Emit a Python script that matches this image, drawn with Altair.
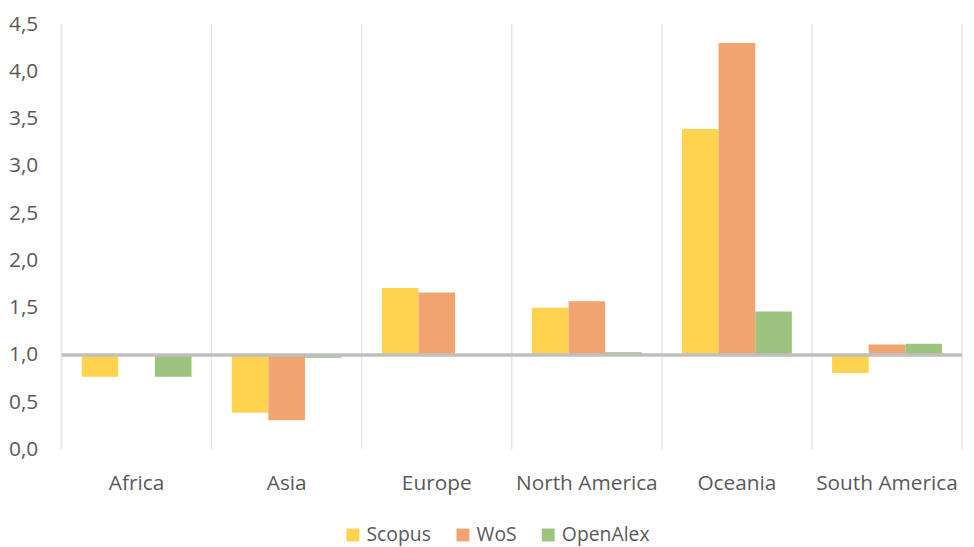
import altair as alt
import pandas as pd

regions = ["Africa", "Asia", "Europe", "North America", "Oceania", "South America"]
series = ["Scopus", "WoS", "OpenAlex"]
scopus = [0.77, 0.39, 1.71, 1.50, 3.39, 0.81]
wos = [None, 0.31, 1.66, 1.57, 4.30, 1.11]
openalex = [0.77, 0.97, None, 1.03, 1.46, 1.12]
colors = ["#FFD34E", "#F1A46F", "#9DC47E"]

rows = []
for s, vals in zip(series, [scopus, wos, openalex]):
    for r, v in zip(regions, vals):
        if v is not None:
            rows.append({"region": r, "source": s, "value": v})
df = pd.DataFrame(rows)

FONT = "Open Sans"
LABEL = "#595959"
GRID = "#E6E6E6"

x_scale = alt.Scale(domain=regions, paddingInner=0, paddingOuter=0)

x_enc = alt.X(
    "region:N",
    sort=regions,
    title=None,
    scale=x_scale,
    axis=alt.Axis(
        grid=False,
        domain=False,
        ticks=False,
        bandPosition=0.5,
        labelAngle=0,
        labelAlign="center",
        labelFont=FONT,
        labelFontSize=21,
        labelColor=LABEL,
        labelPadding=23,
    ),
)

bars = alt.Chart(df).mark_bar().encode(
    x=x_enc,
    xOffset=alt.XOffset(
        "source:N",
        sort=series,
        scale=alt.Scale(paddingOuter=0.55, paddingInner=0),
    ),
    y=alt.Y(
        "value:Q",
        title=None,
        scale=alt.Scale(domain=[0, 4.5], nice=False),
        axis=alt.Axis(
            values=[0, 0.5, 1, 1.5, 2, 2.5, 3, 3.5, 4, 4.5],
            labelExpr="replace(format(datum.value, '.1f'), '.', ',')",
            grid=False,
            domain=False,
            ticks=False,
            labelFont=FONT,
            labelFontSize=21,
            labelColor=LABEL,
            labelPadding=24,
        ),
    ),
    y2=alt.Y2(datum=1),
    color=alt.Color(
        "source:N",
        sort=series,
        scale=alt.Scale(domain=series, range=colors),
        legend=alt.Legend(
            title=None,
            orient="none",
            legendX=284,
            legendY=505,
            direction="horizontal",
            symbolType="square",
            symbolSize=170,
            symbolStrokeWidth=0,
            labelFont=FONT,
            labelFontSize=19.5,
            labelColor=LABEL,
            columnPadding=22,
        ),
    ),
)

grid_df = pd.DataFrame({"region": regions})
grid_start = alt.Chart(grid_df).mark_rule(color=GRID, strokeWidth=1.5).encode(
    x=alt.X("region:N", sort=regions, scale=x_scale, bandPosition=0)
)
grid_end = alt.Chart(pd.DataFrame({"region": [regions[-1]]})).mark_rule(
    color=GRID, strokeWidth=1.5
).encode(x=alt.X("region:N", sort=regions, scale=x_scale, bandPosition=1))

baseline = alt.Chart(pd.DataFrame({"value": [1.0]})).mark_rule(
    color="#BFBFBF", strokeWidth=3.5
).encode(y=alt.Y("value:Q"))

chart = (
    alt.layer(bars, grid_start, grid_end, baseline)
    .properties(
        width=908,
        height=429,
        autosize=alt.AutoSizeParams(type="none"),
        padding={"left": 54, "right": 4, "top": 14, "bottom": 96},
    )
    .configure_view(stroke=None)
)

chart.save("out.html", embed_options={"renderer": "svg", "actions": False})
